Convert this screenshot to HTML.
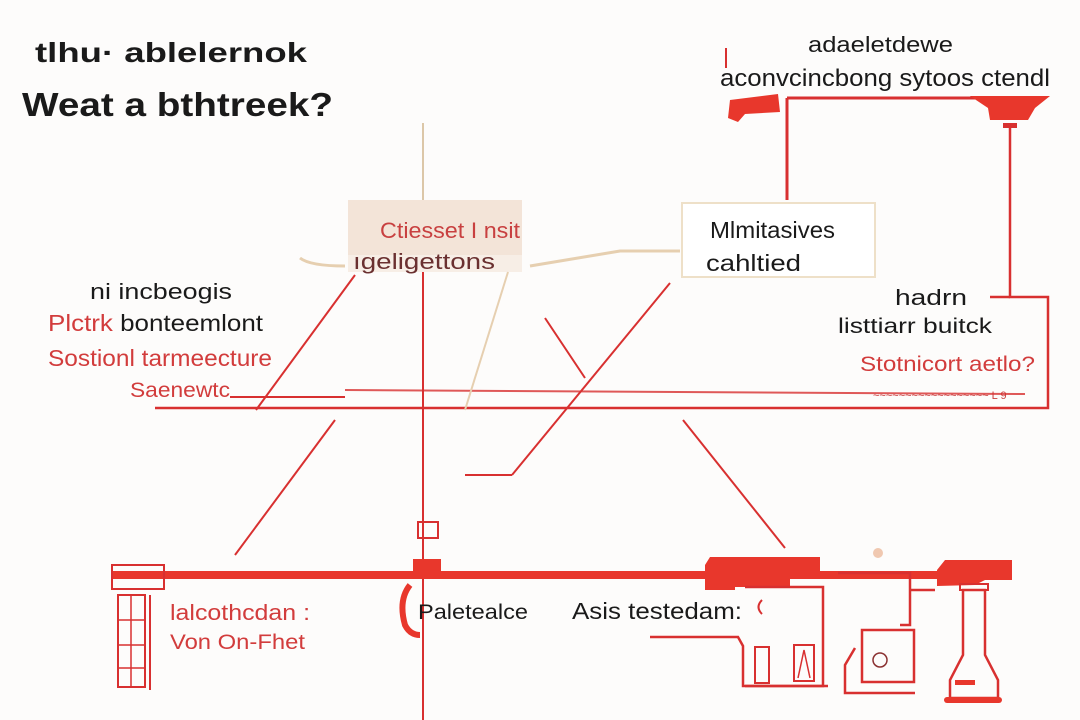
<!DOCTYPE html>
<html><head><meta charset="utf-8"><style>
html,body{margin:0;padding:0;background:#fdfcfb;}
svg{display:block}
text{font-family:"Liberation Sans",sans-serif;}
</style></head><body>
<svg width="1080" height="720" viewBox="0 0 1080 720" xmlns="http://www.w3.org/2000/svg">
<rect width="1080" height="720" fill="#fdfcfb"/>
<!-- title -->
<text x="35" y="62" font-size="28" font-weight="bold" fill="#1a1a1a" textLength="272" lengthAdjust="spacingAndGlyphs">tlhu· ablelernok</text>
<text x="22" y="116" font-size="33" font-weight="bold" fill="#1a1a1a" textLength="311" lengthAdjust="spacingAndGlyphs">Weat a bthtreek?</text>
<!-- top right -->
<text x="808" y="52" font-size="22" fill="#1a1a1a" textLength="145" lengthAdjust="spacingAndGlyphs">adaeletdewe</text>
<text x="720" y="86" font-size="24" fill="#1a1a1a" textLength="330" lengthAdjust="spacingAndGlyphs">aconvcincbong sytoos ctendl</text>
<line x1="726" y1="48" x2="726" y2="68" stroke="#d83030" stroke-width="2"/>
<path d="M730 100 L778 94 L780 112 L745 114 L738 122 L728 118 Z" fill="#e8372c"/>
<line x1="787" y1="98" x2="975" y2="98" stroke="#d83030" stroke-width="3"/>
<path d="M970 96 L1050 96 L1035 108 L1028 120 L990 120 L988 108 Z" fill="#e8372c"/>
<rect x="1003" y="123" width="14" height="5" fill="#d83030"/>
<line x1="787" y1="98" x2="787" y2="200" stroke="#d83030" stroke-width="3"/>
<polyline points="1010,128 1010,297 1048,297 1048,408 155,408" fill="none" stroke="#d83030" stroke-width="2.5"/>
<polyline points="990,297 1010,297" stroke="#d83030" stroke-width="2.5"/>
<!-- box1 -->
<line x1="423" y1="123" x2="423" y2="200" stroke="#dcc7a8" stroke-width="2"/>
<rect x="348" y="200" width="174" height="72" fill="#f3e4d8"/>
<rect x="348" y="255" width="174" height="17" fill="#f7eee6"/>
<text x="380" y="238" font-size="22" fill="#c84040" textLength="140" lengthAdjust="spacingAndGlyphs">Ctiesset I nsit</text>
<text x="353" y="269" font-size="22" fill="#6a3030" textLength="142" lengthAdjust="spacingAndGlyphs">ıgeligettons</text>
<line x1="423" y1="272" x2="423" y2="720" stroke="#d83030" stroke-width="2"/>
<!-- box2 -->
<rect x="682" y="203" width="193" height="74" fill="#ffffff" stroke="#eee0c8" stroke-width="2"/>
<text x="710" y="238" font-size="23" fill="#1a1a1a" textLength="125" lengthAdjust="spacingAndGlyphs">Mlmitasives</text>
<text x="706" y="271" font-size="23" fill="#1a1a1a" textLength="95" lengthAdjust="spacingAndGlyphs">cahltied</text>
<!-- right texts -->
<text x="895" y="305" font-size="22" fill="#1a1a1a" textLength="72" lengthAdjust="spacingAndGlyphs">hadrn</text>
<text x="838" y="333" font-size="21" fill="#1a1a1a" textLength="154" lengthAdjust="spacingAndGlyphs">listtiarr buitck</text>
<text x="860" y="371" font-size="21" fill="#d23c3c" textLength="175" lengthAdjust="spacingAndGlyphs">Stotnicort aetlo?</text>
<text x="873" y="399" font-size="11" fill="#c84040">~~~~~~~~~~~~~~~~~~ L 9</text>
<!-- left texts -->
<text x="90" y="299" font-size="22" fill="#1a1a1a" textLength="142" lengthAdjust="spacingAndGlyphs">ni incbeogis</text>
<text x="48" y="331" font-size="23" fill="#d23c3c" textLength="215" lengthAdjust="spacingAndGlyphs">Plctrk <tspan fill="#1a1a1a">bonteemlont</tspan></text>
<text x="48" y="366" font-size="23" fill="#d23c3c" textLength="224" lengthAdjust="spacingAndGlyphs">Sostionl tarmeecture</text>
<text x="130" y="397" font-size="21" fill="#d23c3c" textLength="100" lengthAdjust="spacingAndGlyphs">Saenewtc</text>
<!-- lines -->
<line x1="230" y1="397" x2="345" y2="397" stroke="#d83030" stroke-width="2"/>
<line x1="345" y1="390" x2="1025" y2="394" stroke="#d83030" stroke-width="2" opacity="0.8"/>
<line x1="355" y1="275" x2="256" y2="410" stroke="#d83030" stroke-width="2"/>
<line x1="335" y1="420" x2="235" y2="555" stroke="#d83030" stroke-width="2"/>
<line x1="545" y1="318" x2="585" y2="378" stroke="#d83030" stroke-width="2"/>
<line x1="670" y1="283" x2="512" y2="475" stroke="#d83030" stroke-width="2"/>
<line x1="465" y1="475" x2="512" y2="475" stroke="#d83030" stroke-width="2"/>
<line x1="683" y1="420" x2="785" y2="548" stroke="#d83030" stroke-width="2"/>
<line x1="508" y1="272" x2="465" y2="410" stroke="#e6cfb0" stroke-width="2"/>
<path d="M300 258 Q310 266 345 266" stroke="#e6cfb0" stroke-width="3" fill="none"/>
<path d="M530 266 L620 251 L680 251" stroke="#e6cfb0" stroke-width="3" fill="none"/>
<!-- bottom bar -->
<rect x="112" y="571" width="895" height="8" fill="#e8372c"/>
<rect x="112" y="565" width="52" height="24" fill="none" stroke="#d83030" stroke-width="2"/>
<rect x="118" y="595" width="27" height="92" fill="none" stroke="#d83030" stroke-width="2"/>
<line x1="118" y1="620" x2="145" y2="620" stroke="#d83030" stroke-width="1.5"/>
<line x1="118" y1="645" x2="145" y2="645" stroke="#d83030" stroke-width="1.5"/>
<line x1="118" y1="668" x2="145" y2="668" stroke="#d83030" stroke-width="1.5"/>
<line x1="131" y1="595" x2="131" y2="687" stroke="#d83030" stroke-width="1.5"/>
<line x1="150" y1="595" x2="150" y2="690" stroke="#d83030" stroke-width="2"/>
<rect x="413" y="559" width="28" height="14" fill="#e8372c"/>
<rect x="418" y="522" width="20" height="16" fill="none" stroke="#d83030" stroke-width="2"/>
<path d="M410 585 Q398 600 405 625 Q410 635 420 635" stroke="#e8372c" stroke-width="6" fill="none"/>
<text x="170" y="620" font-size="22" fill="#d23c3c" textLength="140" lengthAdjust="spacingAndGlyphs">lalcothcdan :</text>
<text x="170" y="649" font-size="21" fill="#d23c3c" textLength="135" lengthAdjust="spacingAndGlyphs">Von On-Fhet</text>
<text x="418" y="619" font-size="21" fill="#1a1a1a" textLength="110" lengthAdjust="spacingAndGlyphs">Paletealce</text>
<text x="572" y="619" font-size="23" fill="#1a1a1a" textLength="170" lengthAdjust="spacingAndGlyphs">Asis testedam:</text>
<!-- building -->
<path d="M705 565 L710 557 L820 557 L820 574 L790 574 L790 587 L735 587 L735 590 L705 590 Z" fill="#e8372c"/>
<path d="M745 587 L823 587 L823 686 L745 686" fill="none" stroke="#d83030" stroke-width="2.5"/>
<polyline points="650,637 738,637 743,646 743,686 828,686" fill="none" stroke="#d83030" stroke-width="2.5"/>
<rect x="755" y="647" width="14" height="36" fill="none" stroke="#d83030" stroke-width="2"/>
<rect x="794" y="645" width="20" height="36" fill="none" stroke="#d83030" stroke-width="2"/>
<path d="M798 678 L804 650 L810 678" fill="none" stroke="#d83030" stroke-width="1.5"/>
<path d="M762 600 Q755 607 762 614" fill="none" stroke="#d83030" stroke-width="2"/>
<!-- monitor -->
<polyline points="838,573 910,573 910,625 900,625 900,625" fill="none" stroke="#d83030" stroke-width="2.5"/>
<line x1="910" y1="590" x2="935" y2="590" stroke="#d83030" stroke-width="2.5"/>
<rect x="862" y="630" width="52" height="52" fill="none" stroke="#d83030" stroke-width="2.5"/>
<circle cx="880" cy="660" r="7" fill="none" stroke="#8a3030" stroke-width="1.5"/>
<path d="M855 648 L845 665 L845 693 L915 693" fill="none" stroke="#d83030" stroke-width="2.5"/>
<!-- bottle -->
<path d="M937 570 L945 560 L1012 560 L1012 580 L985 580 L975 585 L937 586 Z" fill="#e8372c"/>
<path d="M963 590 L963 655 L950 680 L950 698 L998 698 L998 680 L985 655 L985 590 Z" fill="none" stroke="#d83030" stroke-width="2.5"/>
<rect x="960" y="584" width="28" height="6" fill="none" stroke="#d83030" stroke-width="2"/>
<rect x="944" y="697" width="58" height="6" rx="3" fill="#e8372c"/>
<rect x="955" y="680" width="20" height="5" fill="#e8372c"/>
<circle cx="878" cy="553" r="5" fill="#f0c8b0"/>
</svg>
</body></html>
